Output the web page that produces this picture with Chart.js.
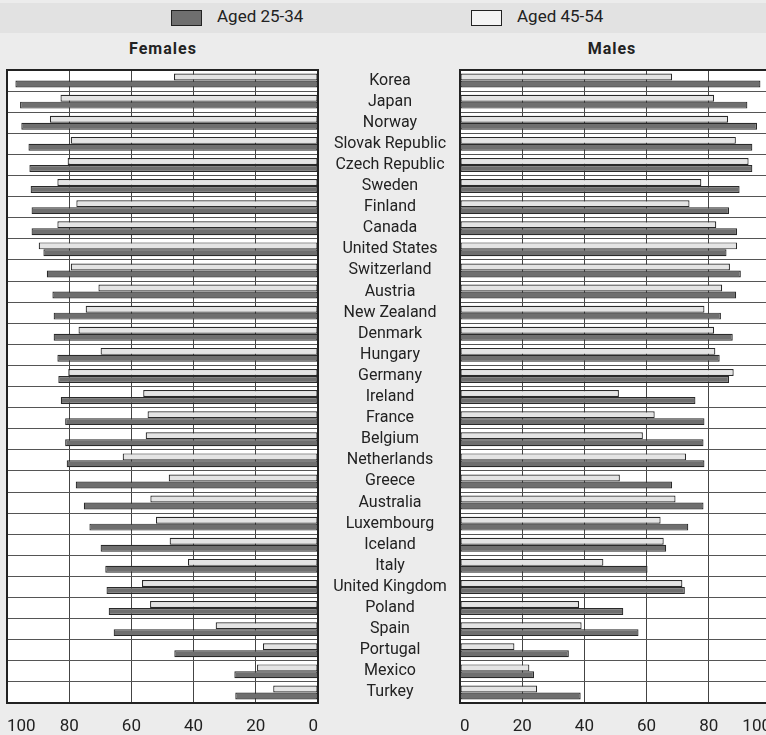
<!DOCTYPE html>
<html>
<head>
<meta charset="utf-8">
<script src="https://cdn.jsdelivr.net/npm/chart.js@4.4.1/dist/chart.umd.min.js"></script>
<style>
  body { margin: 0; background: #ececec; width: 766px; height: 735px; overflow: hidden; position: relative; font-family: Roboto, "Liberation Sans", sans-serif; color: #222; }
  #band { position: absolute; left: 0; top: 3px; width: 766px; height: 30px; background: #e2e2e2; }
  .key { position: absolute; top: 10px; width: 31px; height: 16px; border: 1px solid #222; box-sizing: border-box; }
  .keyLabel { position: absolute; top: 6px; font-size: 17px; }
  .panelTitle { position: absolute; top: 39px; font-size: 16px; font-weight: bold; letter-spacing: 1px; transform: translateX(-50%); }
  canvas { position: absolute; top: 0; }
</style>
</head>
<body>
<div id="band"></div>
<div class="key" style="left:171px;background:#6f6f6f"></div>
<div class="keyLabel" style="left:217px">Aged 25-34</div>
<div class="key" style="left:471px;background:#f4f4f4"></div>
<div class="keyLabel" style="left:517px">Aged 45-54</div>
<div class="panelTitle" style="left:163px">Females</div>
<div class="panelTitle" style="left:612px">Males</div>
<canvas id="females" width="460" height="735" style="left:0"></canvas>
<canvas id="males" width="320" height="735" style="left:455px"></canvas>
<script>
const countries = ["Korea", "Japan", "Norway", "Slovak Republic", "Czech Republic", "Sweden", "Finland", "Canada",
  "United States", "Switzerland", "Austria", "New Zealand", "Denmark", "Hungary", "Germany", "Ireland", "France",
  "Belgium", "Netherlands", "Greece", "Australia", "Luxembourg", "Iceland", "Italy", "United Kingdom", "Poland",
  "Spain", "Portugal", "Mexico", "Turkey"];

const femalesYoung = [97.3, 95.8, 95.4, 93.1, 92.8, 92.4, 92.1, 92.1, 88.3, 87.2, 85.4, 85.0, 85.0, 83.8, 83.5,
  82.7, 81.3, 81.3, 80.8, 77.9, 75.3, 73.5, 69.9, 68.4, 68.0, 67.3, 65.7, 46.2, 26.9, 26.6];
const femalesOld = [46.3, 82.8, 86.2, 79.5, 80.5, 83.8, 77.7, 83.8, 89.8, 79.5, 70.6, 74.7, 77.0, 69.9, 80.3,
  56.2, 54.8, 55.4, 62.8, 48.0, 53.9, 52.1, 47.7, 41.8, 56.6, 54.0, 32.9, 17.7, 19.6, 14.4];
const malesYoung = [96.6, 92.4, 95.5, 94.0, 94.0, 89.9, 86.5, 89.1, 85.7, 90.3, 88.8, 83.9, 87.7, 83.5, 86.5,
  75.7, 78.6, 78.3, 78.6, 68.2, 78.3, 73.4, 66.3, 60.3, 72.3, 52.5, 57.4, 35.0, 23.8, 38.8];
const malesOld = [68.2, 81.7, 86.2, 88.7, 92.8, 77.6, 73.8, 82.4, 89.1, 86.8, 84.3, 78.6, 81.7, 82.1, 88.0,
  51.1, 62.6, 58.8, 72.7, 51.4, 69.3, 64.5, 65.5, 46.1, 71.5, 38.3, 39.1, 17.5, 22.3, 24.8];

const tickFont = { family: "Roboto", size: 17 };
const labelFont = { family: "Roboto", size: 16 };

// white plot area + heavy frame
const framePlugin = {
  id: "frame",
  beforeDraw(chart) {
    const a = chart.chartArea, ctx = chart.ctx;
    ctx.save();
    ctx.fillStyle = "#ffffff";
    ctx.fillRect(a.left, a.top, a.right - a.left, a.bottom - a.top);
    ctx.restore();
  },
  afterDraw(chart) {
    const a = chart.chartArea, ctx = chart.ctx;
    ctx.save();
    ctx.strokeStyle = "#222";
    ctx.lineWidth = 2;
    ctx.strokeRect(a.left, a.top, a.right - a.left, a.bottom - a.top);
    ctx.restore();
  }
};

function datasets(young, old) {
  return [
    { label: "Aged 45-54", data: old, backgroundColor: "#e4e4e4", borderColor: "#2a2a2a", borderWidth: 1.2, borderSkipped: false },
    { label: "Aged 25-34", data: young, backgroundColor: "#6f6f6f", borderColor: "#2a2a2a", borderWidth: 1.2, borderSkipped: false }
  ];
}

function xScale(reverse) {
  return {
    min: 0, max: 100, reverse,
    // inner alignment ignores reverse, so flip the tick order for the females axis
    afterBuildTicks: s => { if (reverse) s.ticks.reverse(); },
    afterFit: s => { s.height = 32; s.paddingLeft = 0; s.paddingRight = 0; },
    grid: { color: "#444", lineWidth: 1, drawTicks: false },
    border: { display: false },
    ticks: { stepSize: 20, font: tickFont, color: "#222", padding: 14, align: "inner", maxRotation: 0 }
  };
}

// centre the country names in the gap between the two panels
const measure = document.createElement("canvas").getContext("2d");
measure.font = "16px Roboto";
const widest = Math.max(...countries.map(c => measure.measureText(c).width));

new Chart(document.getElementById("females"), {
  type: "bar",
  data: { labels: countries, datasets: datasets(femalesYoung, femalesOld) },
  options: {
    indexAxis: "y",
    responsive: false,
    animation: false,
    layout: { padding: { left: 7, top: 70, right: 0, bottom: 0 } },
    datasets: { bar: { categoryPercentage: 0.66, barPercentage: 1 } },
    plugins: { legend: { display: false }, tooltip: { enabled: false } },
    scales: {
      x: xScale(true),
      y: {
        position: "right",
        afterFit: s => { s.width = 142; },
        grid: { color: "#555", lineWidth: 1, drawTicks: false },
        border: { display: false },
        ticks: { font: labelFont, color: "#222", crossAlign: "center", padding: 72 - widest / 2, autoSkip: false }
      }
    }
  },
  plugins: [framePlugin]
});

new Chart(document.getElementById("males"), {
  type: "bar",
  data: { labels: countries, datasets: datasets(malesYoung, malesOld) },
  options: {
    indexAxis: "y",
    responsive: false,
    animation: false,
    layout: { padding: { left: 5, top: 70, right: 4, bottom: 0 } },
    datasets: { bar: { categoryPercentage: 0.66, barPercentage: 1 } },
    plugins: { legend: { display: false }, tooltip: { enabled: false } },
    scales: {
      x: xScale(false),
      y: {
        afterFit: s => { s.width = 0; },
        grid: { color: "#555", lineWidth: 1, drawTicks: false },
        border: { display: false },
        ticks: { display: false }
      }
    }
  },
  plugins: [framePlugin]
});
</script>
</body>
</html>
